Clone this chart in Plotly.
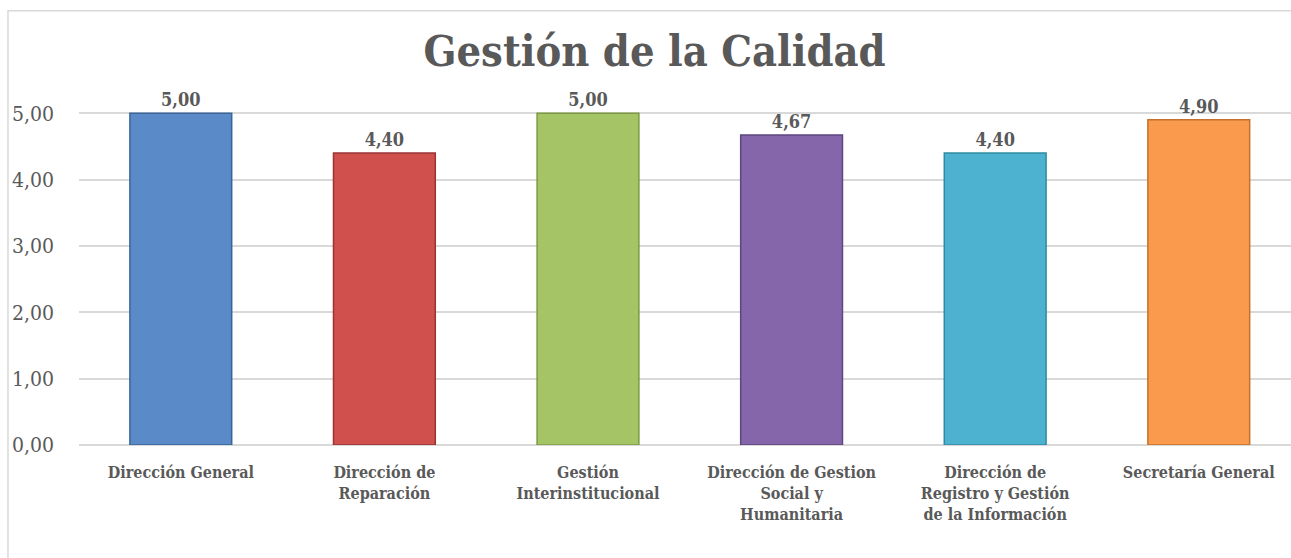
import plotly.graph_objects as go

categories = [
    "Dirección General",
    "Dirección de<br>Reparación",
    "Gestión<br>Interinstitucional",
    "Dirección de Gestion<br>Social y<br>Humanitaria",
    "Dirección de<br>Registro y Gestión<br>de la Información",
    "Secretaría General",
]
values = [5.00, 4.40, 5.00, 4.67, 4.40, 4.90]
bar_colors = ["#5A8AC8", "#CF504D", "#A5C465", "#8566AB", "#4DB2CF", "#F99A4C"]
edge_colors = ["#3A6599", "#9A3533", "#7C9A41", "#5E4680", "#2F8AA3", "#C6712B"]
y_ticks = [0, 1, 2, 3, 4, 5]

FONT = "DejaVu Serif Condensed, DejaVu Serif, serif"
GRAY = "#595959"

fig = go.Figure()
fig.add_trace(go.Bar(
    x=list(range(len(categories))),
    y=values,
    width=0.5,
    marker=dict(color=bar_colors, line=dict(color=edge_colors, width=1.5)),
    texttemplate="<b>%{y:.2f}</b>",
    textposition="outside",
    textfont=dict(family=FONT, size=18, color=GRAY),
    cliponaxis=False,
    hoverinfo="skip",
))

fig.update_layout(
    width=1291, height=558,
    separators=",.",
    paper_bgcolor="white", plot_bgcolor="white",
    margin=dict(l=79, r=0, t=80, b=113),
    showlegend=False,
    title=dict(
        text="<b>Gestión de la Calidad</b>",
        x=0.507, xanchor="center",
        y=0.908, yanchor="middle",
        font=dict(family=FONT, size=43, color=GRAY),
    ),
    xaxis=dict(
        tickmode="array",
        tickvals=list(range(len(categories))),
        ticktext=["<b>" + c.replace("<br>", "</b><br><b>") + "</b>" for c in categories],
        range=[-0.5, 5.453],
        showgrid=False, zeroline=False, showline=False,
        ticks="", ticklabelstandoff=16,
        tickfont=dict(family=FONT, size=16, color=GRAY),
    ),
    yaxis=dict(
        range=[0, 5.5],
        tickmode="array", tickvals=y_ticks, tickformat=".2f",
        showgrid=True, gridcolor="#D9D9D9", gridwidth=1.5,
        zeroline=True, zerolinecolor="#D9D9D9", zerolinewidth=1.5,
        showline=False, ticks="",
        tickfont=dict(family=FONT, size=21, color=GRAY),
        ticklabelstandoff=24,
    ),
    shapes=[dict(
        type="rect", xref="paper", yref="paper",
        x0=-0.0586, x1=1.05, y0=-0.35, y1=1.190,
        line=dict(color="#D9D9D9", width=1.5), fillcolor="rgba(0,0,0,0)",
        layer="below",
    )],
)

fig.write_html(
    "out.html",
    config={"displayModeBar": False},
    post_script="document.body.style.margin='0px';",
)
